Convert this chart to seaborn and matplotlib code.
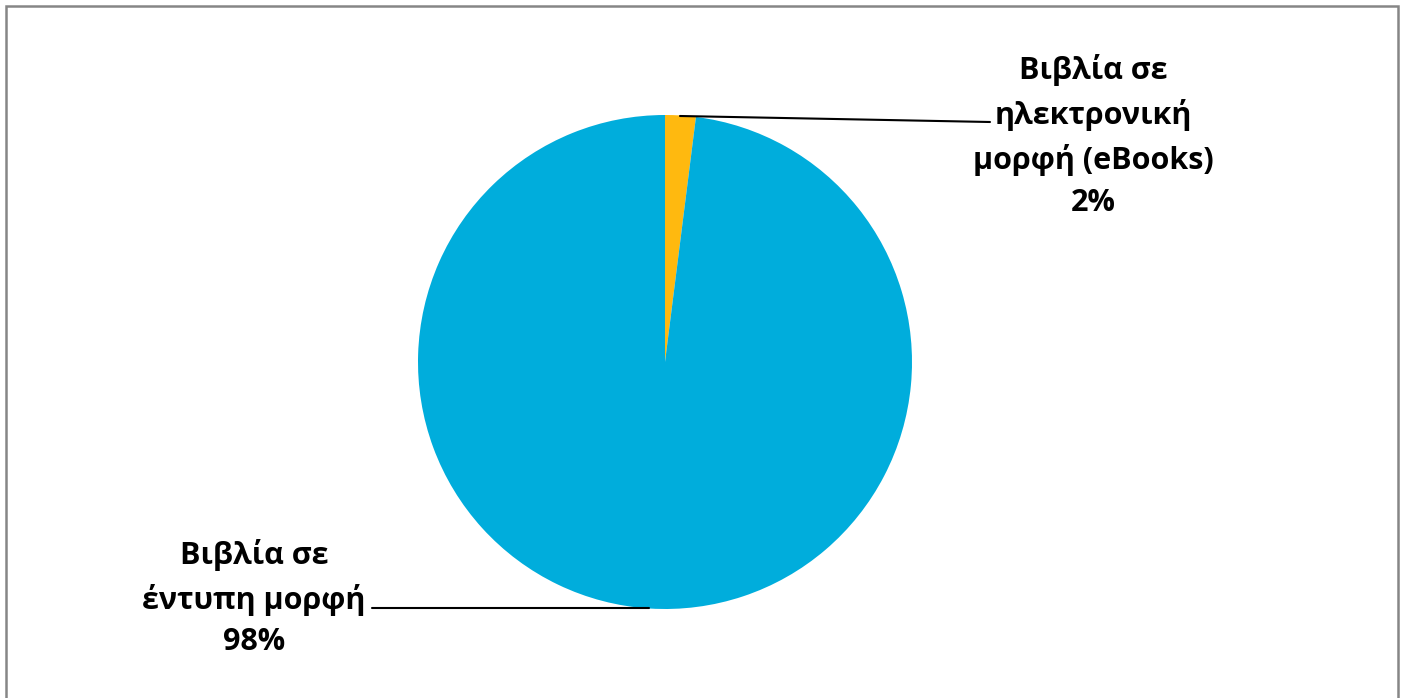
import matplotlib
matplotlib.use("Agg")
import matplotlib.pyplot as plt
import seaborn as sns
from matplotlib.patches import Rectangle

sns.set_theme(style="white")
plt.rcParams["font.family"] = ["Open Sans", "DejaVu Sans"]

# データ
labels = ["Βιβλία σε\nηλεκτρονική\nμορφή (eBooks)", "Βιβλία σε\nέντυπη μορφή"]
values = [2, 98]
colors = ["#FFB90F", "#00ADDC"]

W, H = 1402, 698
fig = plt.figure(figsize=(W / 100, H / 100), dpi=100)
ax = fig.add_axes([0, 0, 1, 1])

cx, cy, r = 665, H - 362, 247
ax.pie(
    values,
    colors=colors,
    startangle=90,
    counterclock=False,
    center=(cx, cy),
    radius=r,
    frame=True,
    wedgeprops={"linewidth": 0},
)
ax.set_xlim(0, W)
ax.set_ylim(0, H)
ax.set_aspect("equal")
ax.axis("off")

# ラベルと引き出し線
pct = [f"{v}%" for v in values]
ax.text(1093, H - 136, f"{labels[0]}\n{pct[0]}", ha="center", va="center",
        fontsize=22, fontweight="bold", color="black", linespacing=1.52)
ax.plot([680, 990], [H - 116, H - 122], color="black", lw=1.5)

ax.text(254, H - 598, f"{labels[1]}\n{pct[1]}", ha="center", va="center",
        fontsize=22, fontweight="bold", color="black", linespacing=1.52)
ax.plot([372, 649], [H - 608, H - 608], color="black", lw=1.5)

# 外枠
fig.patches.append(Rectangle((6 / W, -0.01), (1398 - 6) / W, (H - 6) / H + 0.01,
                             transform=fig.transFigure, fill=False,
                             edgecolor="#868686", lw=1.8))

fig.savefig("out.png", dpi=100)
